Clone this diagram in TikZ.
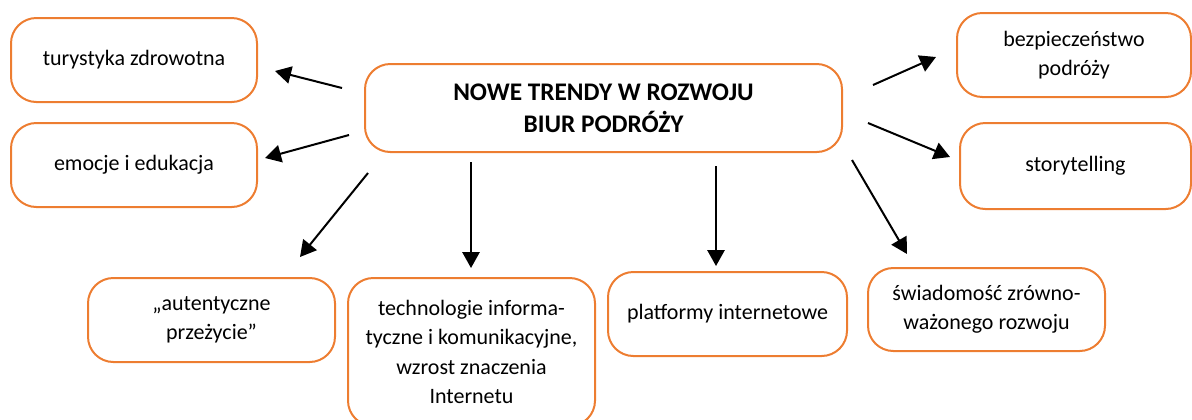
\documentclass[tikz,border=0pt]{standalone}
\usepackage{fontspec}
\setmainfont{Carlito}
\usetikzlibrary{arrows.meta}
\definecolor{boxorange}{HTML}{ED7D31}
\tikzset{
  trendbox/.style={draw=boxorange, line width=1.5pt, rounded corners=19pt, align=center,
    inner sep=0pt, font=\fontsize{16.5}{22}\selectfont, text=black},
  titlebox/.style={trendbox, font=\fontsize{19}{24}\selectfont\bfseries},
  arr/.style={line width=1.5pt, -{Triangle[length=12pt,width=13pt]}}
}
\begin{document}
\begin{tikzpicture}[x=0.75pt, y=-0.75pt]
\useasboundingbox (0,0) rectangle (1192,419);
\node[titlebox, minimum width=477*0.75pt, minimum height=88*0.75pt] (c) at (603.5,108) {NOWE TRENDY W ROZWOJU\\BIUR PODRÓŻY};
\node[trendbox, minimum width=246*0.75pt, minimum height=84*0.75pt] (tz) at (134,60) {turystyka zdrowotna};
\node[trendbox, minimum width=246*0.75pt, minimum height=84*0.75pt] (ee) at (134,165) {emocje i edukacja};
\node[trendbox, minimum width=234*0.75pt, minimum height=84*0.75pt] (bp) at (1074,55) {bezpieczeństwo\\podróży};
\node[trendbox, minimum width=231*0.75pt, minimum height=86*0.75pt] (st) at (1075.5,166) {storytelling};
\node[trendbox, minimum width=247*0.75pt, minimum height=84*0.75pt] (au) at (211.5,320) {„autentyczne\\przeżycie”};
\node[trendbox, minimum width=247*0.75pt, minimum height=148*0.75pt] (te) at (471.5,352) {technologie informa-\\tyczne i komunikacyjne,\\wzrost znaczenia\\Internetu};
\node[trendbox, minimum width=239*0.75pt, minimum height=84*0.75pt] (pl) at (727.5,314) {platformy internetowe};
\node[trendbox, minimum width=237*0.75pt, minimum height=83*0.75pt] (sw) at (986.5,309.5) {świadomość zrówno-\\ważonego rozwoju};
% arrow end points
\coordinate (s1) at (342,88);  \coordinate (e1) at (275,71);
\coordinate (s2) at (349,135); \coordinate (e2) at (265,158);
\coordinate (s3) at (368,173); \coordinate (e3) at (300,257);
\coordinate (s4) at (471,162); \coordinate (e4) at (471,268);
\coordinate (s5) at (716,166); \coordinate (e5) at (716,266);
\coordinate (s6) at (852,160); \coordinate (e6) at (907,254);
\coordinate (s7) at (873,85);  \coordinate (e7) at (936,57);
\coordinate (s8) at (868,123); \coordinate (e8) at (950,157);
\draw[arr] (s1) -- (e1);
\draw[arr] (s2) -- (e2);
\draw[arr] (s3) -- (e3);
\draw[arr] (s4) -- (e4);
\draw[arr] (s5) -- (e5);
\draw[arr] (s6) -- (e6);
\draw[arr] (s7) -- (e7);
\draw[arr] (s8) -- (e8);
\end{tikzpicture}
\end{document}
